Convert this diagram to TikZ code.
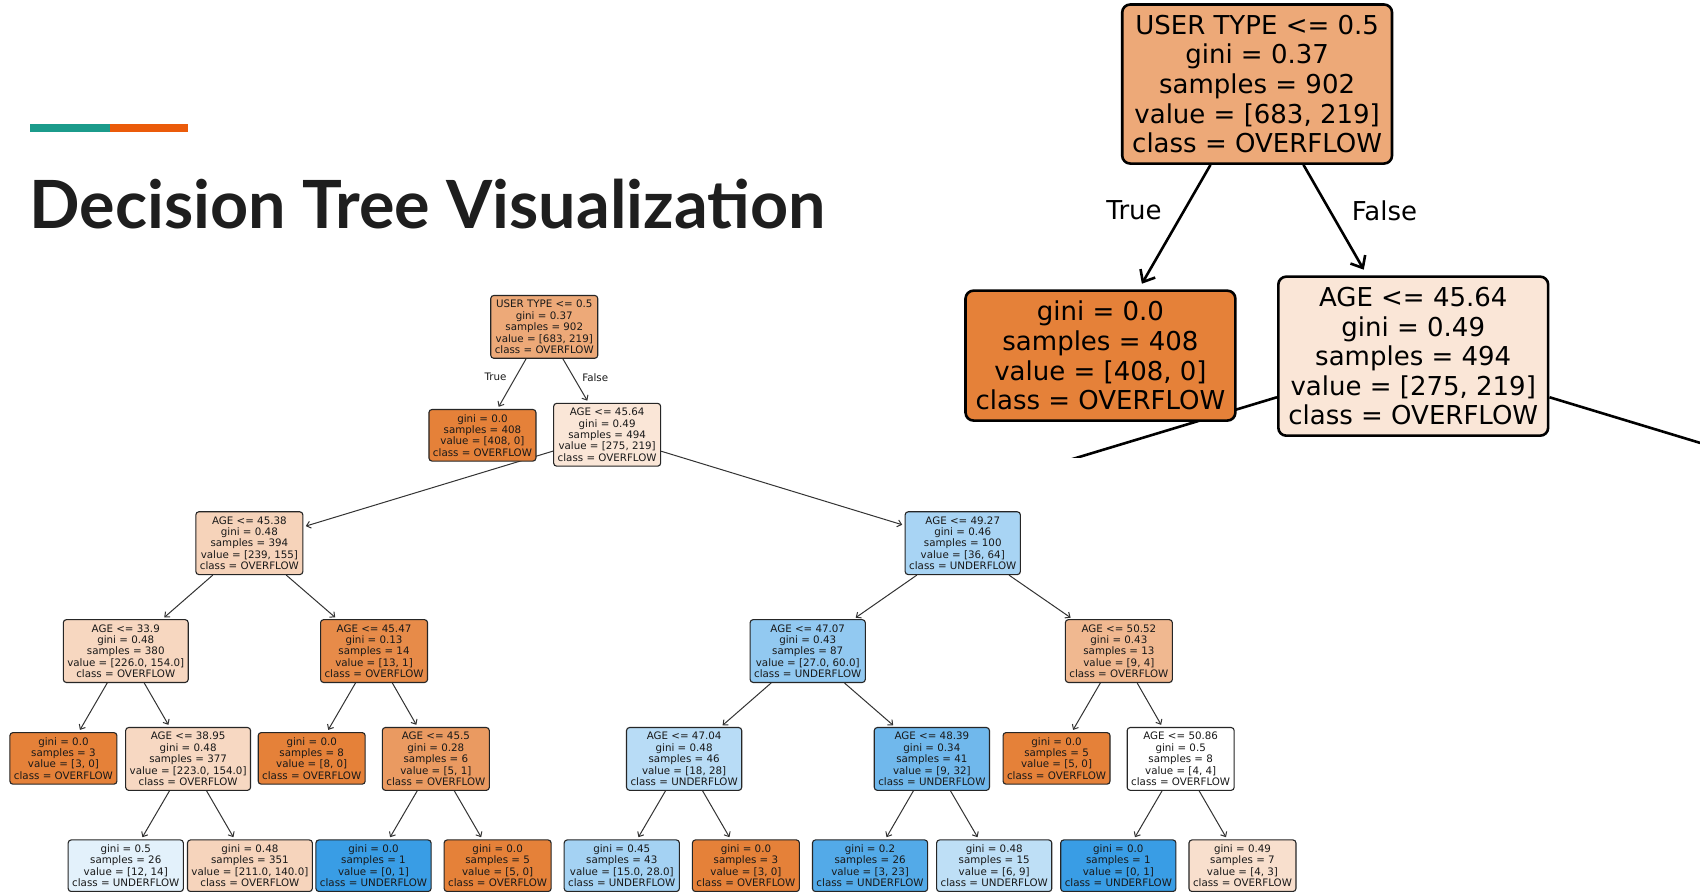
\documentclass[tikz,border=0pt]{standalone}
\usepackage{fontspec}
\usetikzlibrary{arrows.meta,backgrounds}
\newfontfamily\treefont{DejaVu Sans}
\newfontfamily\titlefont{Lato}
\definecolor{sko}{RGB}{229,129,57}
\definecolor{skb}{RGB}{57,157,229}
\definecolor{barteal}{RGB}{27,155,139}
\definecolor{barorange}{RGB}{235,91,10}
\definecolor{titleink}{RGB}{30,30,30}
\pgfdeclarelayer{paper}
\pgfsetlayers{paper,background,main}
\tikzset{
  fo/.style={fill=sko!#1!white},
  fb/.style={fill=skb!#1!white},
  sbox/.style={draw=black!85, line width=1.1pt, rounded corners=3pt, align=center,
    inner xsep=4pt, inner ysep=4.7pt, text=black!90,
    font={\treefont\fontsize{10.3}{11.4}\selectfont}},
  bbox/.style={draw=black, line width=2.6pt, rounded corners=8pt, align=center,
    inner xsep=10pt, inner ysep=10.5pt,
    font={\treefont\fontsize{26}{29.6}\selectfont}},
  sedge/.style={draw=black!80, line width=1pt, -{Straight Barb[length=4pt,width=7pt]}, shorten >=2.5pt},
  bedge/.style={draw=black, line width=2.6pt, -{Straight Barb[length=10pt,width=17pt]}, shorten >=6.5pt},
  plainedge/.style={draw=black, line width=2.6pt},
  slabel/.style={font={\treefont\fontsize{10.3}{11.4}\selectfont}, text=black!90},
  blabel/.style={font={\treefont\fontsize{26}{29.6}\selectfont}},
}
\begin{document}
\begin{tikzpicture}[x=1.08418pt,y=-1.08418pt]
\begin{pgfonlayer}{paper}
  \fill[white] (0,0) rectangle (1568,822);
\end{pgfonlayer}
\useasboundingbox (0,0) rectangle (1568,822);

% heading with accent bar
\fill[barteal] (28,114) rectangle (101,122);
\fill[barorange] (101,114) rectangle (173,122);
\node[anchor=base west, inner sep=0pt, text=titleink,
  font={\titlefont\bfseries\fontsize{66.5}{72}\selectfont}] (title) at (27,211) {Decision Tree Visualization};

% ---------- full tree ----------
\node[sbox,fo=68] (n0) at (502,301.5) {USER TYPE <= 0.5\\gini = 0.37\\samples = 902\\value = [683, 219]\\class = OVERFLOW};
\node[sbox,fo=100] (n1) at (445,401.5) {gini = 0.0\\samples = 408\\value = [408, 0]\\class = OVERFLOW};
\node[sbox,fo=20] (n2) at (560,401) {AGE <= 45.64\\gini = 0.49\\samples = 494\\value = [275, 219]\\class = OVERFLOW};
\node[sbox,fo=35] (n3) at (230,501) {AGE <= 45.38\\gini = 0.48\\samples = 394\\value = [239, 155]\\class = OVERFLOW};
\node[sbox,fb=44] (n4) at (888,501) {AGE <= 49.27\\gini = 0.46\\samples = 100\\value = [36, 64]\\class = UNDERFLOW};
\node[sbox,fo=32] (n5) at (116,600.5) {AGE <= 33.9\\gini = 0.48\\samples = 380\\value = [226.0, 154.0]\\class = OVERFLOW};
\node[sbox,fo=92] (n6) at (345,600.5) {AGE <= 45.47\\gini = 0.13\\samples = 14\\value = [13, 1]\\class = OVERFLOW};
\node[sbox,fb=55] (n7) at (745,600.5) {AGE <= 47.07\\gini = 0.43\\samples = 87\\value = [27.0, 60.0]\\class = UNDERFLOW};
\node[sbox,fo=56] (n8) at (1032,600.5) {AGE <= 50.52\\gini = 0.43\\samples = 13\\value = [9, 4]\\class = OVERFLOW};

\node[sbox,fo=100] (n9) at (58.5,699.5) {gini = 0.0\\samples = 3\\value = [3, 0]\\class = OVERFLOW};
\node[sbox,fo=31] (n10) at (173.5,700) {AGE <= 38.95\\gini = 0.48\\samples = 377\\value = [223.0, 154.0]\\class = OVERFLOW};
\node[sbox,fo=100] (n11) at (287.5,699.5) {gini = 0.0\\samples = 8\\value = [8, 0]\\class = OVERFLOW};
\node[sbox,fo=80] (n12) at (402,700) {AGE <= 45.5\\gini = 0.28\\samples = 6\\value = [5, 1]\\class = OVERFLOW};
\node[sbox,fb=36] (n13) at (631,700) {AGE <= 47.04\\gini = 0.48\\samples = 46\\value = [18, 28]\\class = UNDERFLOW};
\node[sbox,fb=72] (n14) at (859.5,700) {AGE <= 48.39\\gini = 0.34\\samples = 41\\value = [9, 32]\\class = UNDERFLOW};
\node[sbox,fo=100] (n15) at (974.5,699.5) {gini = 0.0\\samples = 5\\value = [5, 0]\\class = OVERFLOW};
\node[sbox,fill=white] (n16) at (1089,700) {AGE <= 50.86\\gini = 0.5\\samples = 8\\value = [4, 4]\\class = OVERFLOW};

\node[sbox,fb=14] (n17) at (116,798.5) {gini = 0.5\\samples = 26\\value = [12, 14]\\class = UNDERFLOW};
\node[sbox,fo=34] (n18) at (230.5,798.5) {gini = 0.48\\samples = 351\\value = [211.0, 140.0]\\class = OVERFLOW};
\node[sbox,fb=100] (n19) at (344.5,798.5) {gini = 0.0\\samples = 1\\value = [0, 1]\\class = UNDERFLOW};
\node[sbox,fo=100] (n20) at (459,798.5) {gini = 0.0\\samples = 5\\value = [5, 0]\\class = OVERFLOW};
\node[sbox,fb=46] (n21) at (573.5,798.5) {gini = 0.45\\samples = 43\\value = [15.0, 28.0]\\class = UNDERFLOW};
\node[sbox,fo=100] (n22) at (688,798.5) {gini = 0.0\\samples = 3\\value = [3, 0]\\class = OVERFLOW};
\node[sbox,fb=87] (n23) at (802.5,798.5) {gini = 0.2\\samples = 26\\value = [3, 23]\\class = UNDERFLOW};
\node[sbox,fb=33] (n24) at (917,798.5) {gini = 0.48\\samples = 15\\value = [6, 9]\\class = UNDERFLOW};
\node[sbox,fb=100] (n25) at (1031.5,798.5) {gini = 0.0\\samples = 1\\value = [0, 1]\\class = UNDERFLOW};
\node[sbox,fo=25] (n26) at (1146,798.5) {gini = 0.49\\samples = 7\\value = [4, 3]\\class = OVERFLOW};

\node[slabel] (sTrue) at (457,348) {True};
\node[slabel] (sFalse) at (549,348) {False};

% ---------- enlarged top of the tree ----------
\node[bbox,fo=68] (b0) at (1159.5,77.5) {USER TYPE <= 0.5\\gini = 0.37\\samples = 902\\value = [683, 219]\\class = OVERFLOW};
\node[bbox,fo=100] (b1) at (1015,328) {gini = 0.0\\samples = 408\\value = [408, 0]\\class = OVERFLOW};
\node[bbox,fo=20] (b2) at (1303.5,328.5) {AGE <= 45.64\\gini = 0.49\\samples = 494\\value = [275, 219]\\class = OVERFLOW};
\coordinate (b3) at (476.8,578.2);
\coordinate (b4) at (2128,578.2);
\node[blabel] (bTrue) at (1046,194) {True};
\node[blabel] (bFalse) at (1277,194) {False};

% connectors sit beneath the boxes
\begin{pgfonlayer}{background}
  \foreach \p/\c in {n0/n1,n0/n2,n2/n3,n2/n4,n3/n5,n3/n6,n4/n7,n4/n8,
                     n5/n9,n5/n10,n6/n11,n6/n12,n7/n13,n7/n14,n8/n15,n8/n16,
                     n10/n17,n10/n18,n12/n19,n12/n20,n13/n21,n13/n22,
                     n14/n23,n14/n24,n16/n25,n16/n26}
    \draw[sedge] (\p) -- (\c);
  \begin{scope}
    \clip (870,0) rectangle (1568,422);
    \draw[bedge] (b0) -- (b1);
    \draw[bedge] (b0) -- (b2);
    \draw[plainedge] (b2) -- (b3);
    \draw[plainedge] (b2) -- (b4);
  \end{scope}
\end{pgfonlayer}
\end{tikzpicture}
\end{document}
